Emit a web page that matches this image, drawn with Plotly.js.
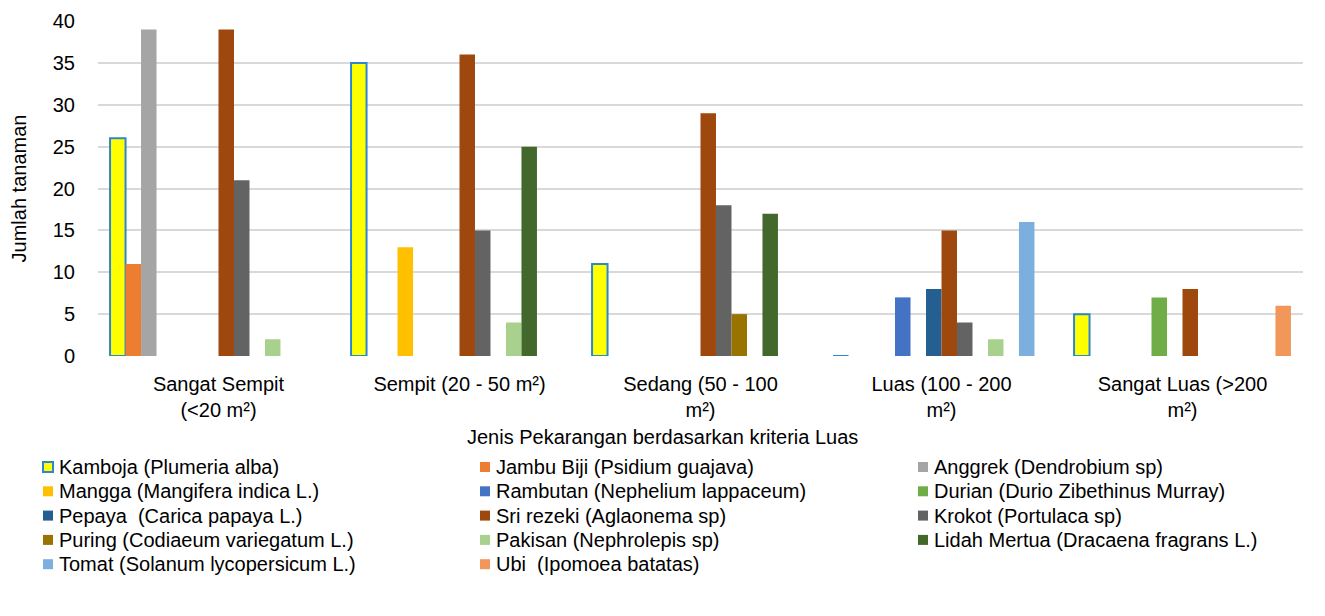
<!DOCTYPE html>
<html>
<head>
<meta charset="utf-8">
<script src="https://cdn.plot.ly/plotly-3.0.1.min.js"></script>
<style>html,body{margin:0;padding:0;background:#fff;}#chart{width:1325px;height:616px;}</style>
</head>
<body>
<div id="chart"></div>
<script>
const categories = [
  "Sangat Sempit<br>(<20 m²)",
  "Sempit (20 - 50 m²)",
  "Sedang (50 - 100<br>m²)",
  "Luas (100 - 200<br>m²)",
  "Sangat Luas (>200<br>m²)"
];
const seriesNames = [
  "Kamboja (Plumeria alba)",
  "Jambu Biji (Psidium guajava)",
  "Anggrek (Dendrobium sp)",
  "Mangga (Mangifera indica L.)",
  "Rambutan (Nephelium lappaceum)",
  "Durian (Durio Zibethinus Murray)",
  "Pepaya  (Carica papaya L.)",
  "Sri rezeki (Aglaonema sp)",
  "Krokot (Portulaca sp)",
  "Puring (Codiaeum variegatum L.)",
  "Pakisan (Nephrolepis sp)",
  "Lidah Mertua (Dracaena fragrans L.)",
  "Tomat (Solanum lycopersicum L.)",
  "Ubi  (Ipomoea batatas)"
];
const kamboja     = [26, 35, 11, 0, 5];
const jambuBiji   = [11, 0, 0, 0, 0];
const anggrek     = [39, 0, 0, 0, 0];
const mangga      = [0, 13, 0, 0, 0];
const rambutan    = [0, 0, 0, 7, 0];
const durian      = [0, 0, 0, 0, 7];
const pepaya      = [0, 0, 0, 8, 0];
const sriRezeki   = [39, 36, 29, 15, 8];
const krokot      = [21, 15, 18, 4, 0];
const puring      = [0, 0, 5, 0, 0];
const pakisan     = [2, 4, 0, 2, 0];
const lidahMertua = [0, 25, 17, 0, 0];
const tomat       = [0, 0, 0, 16, 0];
const ubi         = [0, 0, 0, 0, 6];
const seriesValues = [kamboja, jambuBiji, anggrek, mangga, rambutan, durian, pepaya,
  sriRezeki, krokot, puring, pakisan, lidahMertua, tomat, ubi];
const yTicks = [0, 5, 10, 15, 20, 25, 30, 35, 40];
const xTitle = "Jenis Pekarangan berdasarkan kriteria Luas";
const yTitle = "Jumlah tanaman";

const colors = ["#FFFF00", "#ED7D31", "#A5A5A5", "#FFC000", "#4472C4", "#70AD47", "#255E91",
  "#9E480E", "#636363", "#997300", "#A9D18E", "#43682B", "#7CAFDD", "#F1975A"];
const kambojaBorder = "#2E86D1";

const FONT = "Liberation Sans, Arial, sans-serif";
const FS = 20;

// plot-area geometry (pixels) used to place the legend in paper coordinates
const M = {l: 98, r: 22, t: 21, b: 260};
const W = 1325, H = 616;
const PW = W - M.l - M.r, PH = H - M.t - M.b;
const px2x = p => (p - M.l) / PW;
const px2y = p => (H - M.b - p) / PH;

const traces = seriesNames.map((name, i) => ({
  type: "bar",
  name: name,
  x: categories,
  y: seriesValues[i],
  marker: {
    color: colors[i],
    line: i === 0 ? {color: kambojaBorder, width: 2} : {width: 0}
  },
  hoverinfo: "name+y",
  showlegend: false
}));

// legend drawn as a 3-column grid of swatches + labels
const legCols = [43, 480, 918];
const legRow0 = 467, legRowStep = 24.3, sw = 10;
const shapes = [];
const annotations = [{
  text: xTitle,
  xref: "paper", yref: "paper",
  x: px2x(662), y: px2y(437),
  xanchor: "center", yanchor: "middle",
  showarrow: false,
  font: {family: FONT, size: FS, color: "#000"}
}];
seriesNames.forEach((name, i) => {
  const cx = legCols[i % 3];
  const cy = legRow0 + Math.floor(i / 3) * legRowStep;
  shapes.push({
    type: "rect", xref: "paper", yref: "paper",
    x0: px2x(cx), x1: px2x(cx + sw),
    y0: px2y(cy - sw / 2), y1: px2y(cy + sw / 2),
    fillcolor: colors[i],
    line: i === 0 ? {color: kambojaBorder, width: 2} : {width: 0}
  });
  annotations.push({
    text: name,
    xref: "paper", yref: "paper",
    x: px2x(cx + sw + 4), y: px2y(cy),
    xanchor: "left", yanchor: "middle",
    showarrow: false,
    font: {family: FONT, size: FS, color: "#000"}
  });
});

const layout = {
  width: W,
  height: H,
  margin: M,
  paper_bgcolor: "#ffffff",
  plot_bgcolor: "#ffffff",
  font: {family: FONT, size: FS, color: "#000000"},
  barmode: "group",
  bargap: 0.1,
  bargroupgap: 0,
  showlegend: false,
  xaxis: {
    type: "category",
    tickfont: {family: FONT, size: FS, color: "#000"},
    showgrid: false,
    showline: false,
    ticks: "",
    ticklabelstandoff: 14
  },
  yaxis: {
    range: [0, 40],
    tickvals: yTicks,
    tickfont: {family: FONT, size: FS, color: "#000"},
    showgrid: true,
    gridcolor: "#D9D9D9",
    gridwidth: 2,
    zeroline: false,
    showline: false,
    ticks: "",
    ticklabelstandoff: 22,
    title: {text: yTitle, font: {family: FONT, size: FS, color: "#000"}, standoff: 20}
  },
  shapes: shapes,
  annotations: annotations
};

Plotly.newPlot("chart", traces, layout, {displayModeBar: false, staticPlot: true});
</script>
</body>
</html>
